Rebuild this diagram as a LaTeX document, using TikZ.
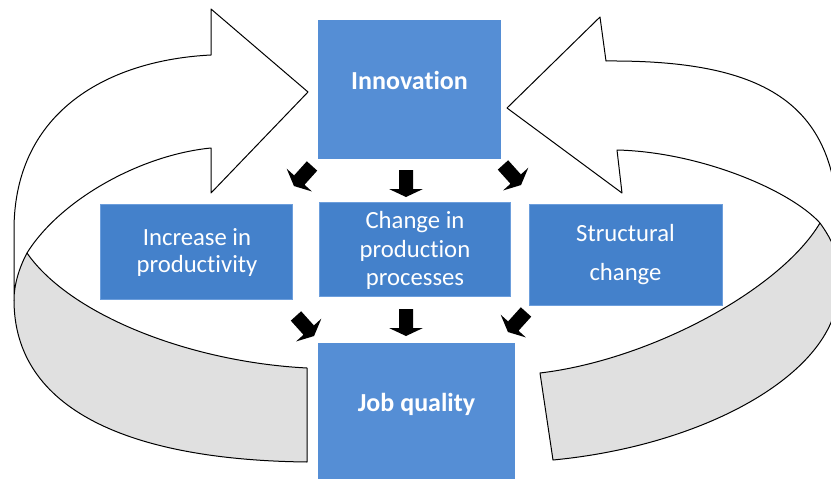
\documentclass[tikz,border=0pt]{standalone}
\usepackage{fontspec}
\setmainfont{Carlito}[Ligatures={NoCommon}]
\definecolor{boxlight}{HTML}{558ED5}
\definecolor{boxdark}{HTML}{4481CB}
\definecolor{boxedge}{HTML}{6C9EDC}
\definecolor{bandgray}{HTML}{E0E0E0}
\begin{document}
\begin{tikzpicture}[x=1pt,y=-1pt,
  bigbox/.style={rectangle,fill=boxlight,inner sep=0pt,minimum width=#1},
  midbox/.style={rectangle,fill=boxdark,draw=boxedge,line width=0.8pt,inner sep=0pt},
  boldtxt/.style={text=white,font=\fontsize{26}{31}\selectfont\bfseries,anchor=base,inner sep=0pt},
  regtxt/.style={text=white,font=\fontsize{24.7}{29}\selectfont,anchor=base,inner sep=0pt},
  ribbon/.style={draw=black,line width=1pt,line join=round},
  blkarrow/.pic={\fill[black] (-7,-13.5) -- (7,-13.5) -- (7,5.5) -- (17,5.5) -- (0,13.5) -- (-17,5.5) -- (-7,5.5) -- cycle;}
]
\useasboundingbox (0,0) rectangle (831,479);
\begin{scope}
\clip (0,0) rectangle (831,479);
% ---- left ribbon arrow ----
\fill[bandgray] (27,253) .. controls (70,315) and (190,362) .. (307,368) -- (307,462)
   .. controls (130,460) and (14,410) .. (14,300) .. controls (14,285) and (19,268) .. (27,253) -- cycle;
\draw[ribbon] (27,253) .. controls (70,315) and (190,362) .. (307,368) -- (307,462)
   .. controls (130,460) and (14,410) .. (14,300);
\filldraw[ribbon,fill=white] (211,55) .. controls (110,60) and (14,110) .. (14,230) -- (14,300)
   .. controls (14,285) and (19,268) .. (27,253) .. controls (60,200) and (140,155) .. (211,148)
   -- (211,193) -- (308,92) -- (211,9) -- cycle;
% ---- right ribbon arrow ----
\fill[bandgray] (820,223) .. controls (780,290) and (650,360) .. (540,373) -- (553,460)
   .. controls (710,445) and (838,370) .. (838,290) -- (838,262) .. controls (836,248) and (828,234) .. (820,223) -- cycle;
\draw[ribbon] (820,223) .. controls (780,290) and (650,360) .. (540,373) -- (553,460)
   .. controls (710,445) and (838,370) .. (838,290) -- (838,262);
\filldraw[ribbon,fill=white] (606,61) .. controls (760,60) and (838,100) .. (838,230) -- (838,262)
   .. controls (836,248) and (828,234) .. (820,223) .. controls (790,190) and (700,152) .. (617,150)
   -- (622,193) -- (507,108) -- (600,17) -- cycle;
\end{scope}
% ---- boxes ----
\node[bigbox=183pt,minimum height=139pt] (inno) at (409.5,89.5) {};
\node[boldtxt] (innotxt) at (409.5,89) {Innovation};
\node[bigbox=197pt,minimum height=136pt] (job) at (416.5,411) {};
\node[boldtxt] (jobtxt) at (416.5,411) {Job quality};
\node[midbox,minimum width=192pt,minimum height=95pt] (prod) at (196,251.5) {};
\node[regtxt] (prodA) at (197,245.5) {Increase in};
\node[regtxt] (prodB) at (197,272.5) {productivity};
\node[midbox,minimum width=191pt,minimum height=94pt] (proc) at (414.5,249.5) {};
\node[regtxt] (procA) at (415,228.5) {Change in};
\node[regtxt] (procB) at (415,257) {production};
\node[regtxt] (procC) at (415,285.5) {processes};
\node[midbox,minimum width=193pt,minimum height=101pt] (struc) at (625.5,254.5) {};
\node[regtxt] (strucA) at (625.5,241.5) {Structural};
\node[regtxt] (strucB) at (625.5,280) {change};
% ---- small block arrows ----
\pic[rotate=-42] (atl) at (303,176) {blkarrow};
\pic (atm) at (406,183.5) {blkarrow};
\pic[rotate=42] (atr) at (512,175) {blkarrow};
\pic[rotate=42] (abl) at (305,326) {blkarrow};
\pic (abm) at (406,322.5) {blkarrow};
\pic[rotate=-42] (abr) at (517,322) {blkarrow};
\end{tikzpicture}
\end{document}
